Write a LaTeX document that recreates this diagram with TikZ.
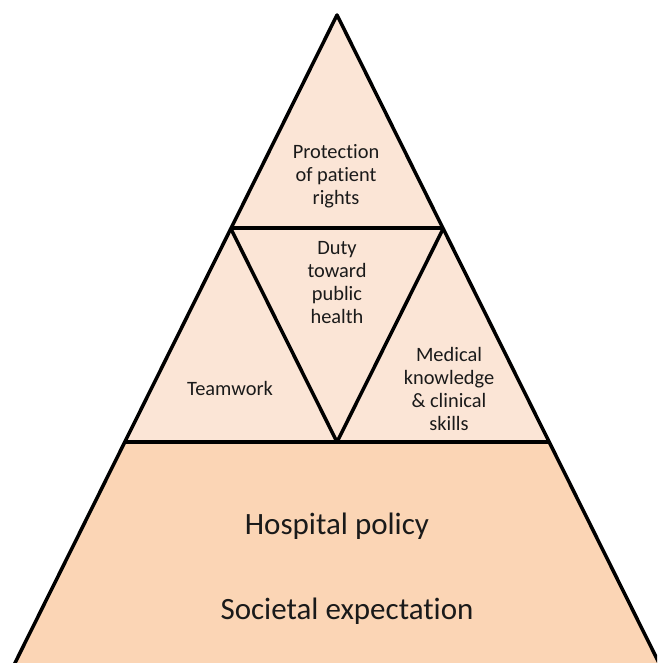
\documentclass[tikz,border=0pt]{standalone}
\usepackage{fontspec}
\setmainfont{Carlito}[Ligatures=NoCommon]
\definecolor{tierlight}{HTML}{FBE5D6}
\definecolor{tierbase}{HTML}{FBD5B5}
\definecolor{labeltext}{HTML}{1A1A1A}

\begin{document}
\begin{tikzpicture}[x=1pt, y=-1pt, line join=round,
  edge/.style={line width=3.5pt},
  tier/.style={font=\fontsize{20.4}{23}\selectfont, align=center,
    text=labeltext, inner sep=0pt},
  base/.style={font=\fontsize{31}{36}\selectfont, text=labeltext,
    inner sep=0pt, anchor=base}]
\useasboundingbox (0,0) rectangle (657,663);
\clip (0,0) rectangle (657,663);
% corner points of the pyramid
\coordinate (apex) at (337,15);
\coordinate (upl) at (230.5,228);
\coordinate (upr) at (443.5,228);
\coordinate (midl) at (125,442);
\coordinate (midr) at (549,442);
\coordinate (mid) at (337,442);
\coordinate (botl) at (10,673);
\coordinate (botr) at (664,673);
% fills
\fill[tierbase] (midl) -- (midr) -- (botr) -- (botl) -- cycle;
\fill[tierlight] (apex) -- (midr) -- (midl) -- cycle;
% outlines
\draw[edge] (botl) -- (apex) -- (botr);
\draw[edge] (upl) -- (upr);
\draw[edge] (midl) -- (midr);
\draw[edge] (upl) -- (mid) -- (upr);
% labels
\node[tier] (rights) at (336,176) {Protection\\of patient\\rights};
\node[tier] (duty) at (337,283) {Duty\\toward\\public\\health};
\node[tier, anchor=base] (team) at (230,395) {Teamwork};
\node[tier] (skills) at (449,389) {Medical\\knowledge\\\& clinical\\skills};
\node[base] (policy) at (337,534) {Hospital policy};
\node[base] (society) at (347,619) {Societal expectation};
\end{tikzpicture}
\end{document}
